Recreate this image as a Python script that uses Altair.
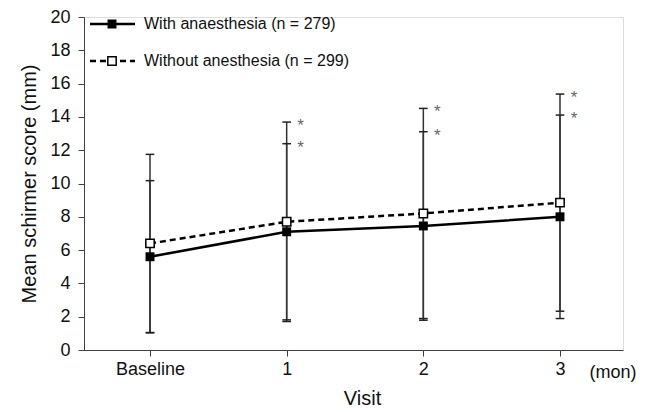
import altair as alt
import pandas as pd

visits = [0, 1, 2, 3]
visit_labels = ["Baseline", "1", "2", "3"]
with_mean = [5.6, 7.1, 7.45, 8.0]
with_sd = [4.57, 5.29, 5.66, 6.11]
without_mean = [6.4, 7.7, 8.2, 8.85]
without_sd = [5.35, 5.99, 6.31, 6.52]
series_names = ["With anaesthesia (n = 279)", "Without anesthesia (n = 299)"]
sig_visits = [1, 2, 3]
y_ticks = list(range(0, 21, 2))

rows = []
for s, (m, sd) in zip(series_names, [(with_mean, with_sd), (without_mean, without_sd)]):
    for v, mv, sv in zip(visits, m, sd):
        rows.append({"series": s, "visit": v, "mean": mv, "lo": mv - sv, "hi": mv + sv})
df = pd.DataFrame(rows)
df_with = df[df.series == series_names[0]]
df_without = df[df.series == series_names[1]]
df_sig = df[df.visit.isin(sig_visits)]
one = pd.DataFrame({"k": [0]})

x_scale = alt.Scale(domain=[-0.483, 3.461], nice=False, zero=False)
y_scale = alt.Scale(domain=[0, 20], nice=False)
label_expr = "datum.value == 0 ? 'Baseline' : format(datum.value, 'd')"
FONT = "Liberation Sans"
AX = "#404040"

x_axis = alt.Axis(values=visits, labelExpr=label_expr, title="Visit", titleX=278)
y_axis = alt.Axis(values=y_ticks, tickCount=11, title="Mean schirmer score (mm)")


def X():
    return alt.X("visit:Q", scale=x_scale, axis=x_axis)


def Y(field):
    return alt.Y(field, scale=y_scale, axis=y_axis)


base = alt.Chart(df)

line_without = alt.Chart(df_without).mark_line(color="black", strokeWidth=2.5,
                                                strokeDash=[6, 4]).encode(x=X(), y=Y("mean:Q"))
line_with = alt.Chart(df_with).mark_line(color="black", strokeWidth=2.5).encode(x=X(), y=Y("mean:Q"))

err = base.mark_rule(color="#333", strokeWidth=1.5).encode(x=X(), y=Y("lo:Q"), y2="hi:Q")
cap_hi = base.mark_point(shape="M-1,0L1,0", size=75, color="#222", strokeWidth=1.5,
                         filled=False, opacity=1).encode(x=X(), y=Y("hi:Q"))
cap_lo = base.mark_point(shape="M-1,0L1,0", size=75, color="#222", strokeWidth=1.5,
                         filled=False, opacity=1).encode(x=X(), y=Y("lo:Q"))

pts_with = alt.Chart(df_with).mark_point(shape="square", size=80, filled=True, color="black",
                                         opacity=1).encode(x=X(), y=Y("mean:Q"))
pts_without = alt.Chart(df_without).mark_point(shape="square", size=70, fill="white",
                                               stroke="black", strokeWidth=1.5, opacity=1,
                                               filled=True).encode(x=X(), y=Y("mean:Q"))

stars = alt.Chart(df_sig).mark_text(text="*", fontSize=17, color="#666", dx=14, dy=4,
                                     font=FONT).encode(x=X(), y=Y("hi:Q"))

# legend drawn in the top-left corner of the plot
leg1 = alt.Chart(one).mark_rule(color="black", strokeWidth=2.5).encode(
    x=alt.value(6), x2=alt.value(51), y=alt.value(7))
leg2 = alt.Chart(one).mark_rule(color="black", strokeWidth=2.5, strokeDash=[6, 4]).encode(
    x=alt.value(6), x2=alt.value(51), y=alt.value(44))
legp1 = alt.Chart(one).mark_point(shape="square", size=80, filled=True, color="black",
                                  opacity=1).encode(x=alt.value(28), y=alt.value(7))
legp2 = alt.Chart(one).mark_point(shape="square", size=70, fill="white", stroke="black",
                                  strokeWidth=1.5, filled=True, opacity=1).encode(
    x=alt.value(28), y=alt.value(44))
legt1 = alt.Chart(one).mark_text(text=series_names[0], align="left", baseline="middle",
                                 fontSize=16, font=FONT, color="#111").encode(
    x=alt.value(60), y=alt.value(7))
legt2 = alt.Chart(one).mark_text(text=series_names[1], align="left", baseline="middle",
                                 fontSize=16, font=FONT, color="#111").encode(
    x=alt.value(60), y=alt.value(44))
mon = alt.Chart(one).mark_text(text="(mon)", align="center", baseline="middle", fontSize=18,
                               font=FONT, color="#111").encode(x=alt.value(529), y=alt.value(356))

chart = alt.layer(line_without, line_with, err, cap_hi, cap_lo, pts_with, pts_without, stars,
                  leg1, leg2, legp1, legp2, legt1, legt2, mon).properties(
    width=539, height=333, autosize="none",
    padding={"left": 84, "top": 17, "right": 25, "bottom": 62}
).configure_view(stroke=None).configure(background="white").configure_axis(
    grid=False, domainColor=AX, tickColor=AX, tickSize=6, labelFontSize=18,
    labelColor="#111", titleFontSize=20, titleFontWeight="normal", titleColor="#111",
    labelFont=FONT, titleFont=FONT, labelOverlap=False
).configure_axisX(labelPadding=4, titlePadding=10).configure_axisY(labelPadding=8, titlePadding=10)

chart.save("out.html", embed_options={"renderer": "svg", "actions": False})
